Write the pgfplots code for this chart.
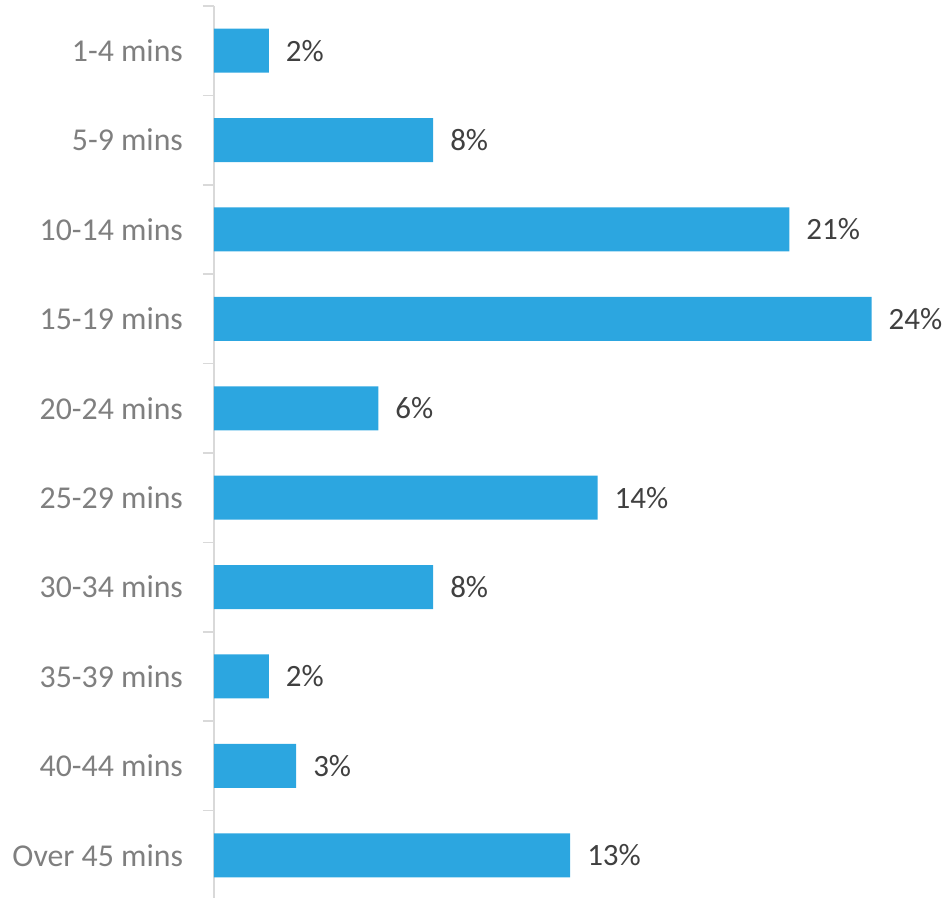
\documentclass[border=0pt]{standalone}
\usepackage{pgfplots}
\pgfplotsset{compat=1.18}
\usepackage{fontspec}
\setmainfont{Carlito}
\definecolor{barblue}{HTML}{2CA6E0}
\definecolor{axgray}{HTML}{D9D9D9}
\definecolor{labgray}{HTML}{7F7F7F}
\definecolor{valgray}{HTML}{404040}
\begin{document}
\begin{tikzpicture}
\useasboundingbox (-107pt,1pt) rectangle (367pt,450pt);
\begin{axis}[
  at={(0pt,0pt)}, anchor=south west,
  scale only axis,
  width=356.2pt, height=447pt,
  xbar, bar width=22pt,
  xmin=0, xmax=26,
  ymin=-0.5, ymax=9.5,
  y dir=reverse,
  axis x line=none,
  axis y line*=left,
  y axis line style={draw=axgray, line width=0.8pt},
  ytick={0,...,9},
  yticklabels={1-4 mins,5-9 mins,10-14 mins,15-19 mins,20-24 mins,25-29 mins,30-34 mins,35-39 mins,40-44 mins,Over 45 mins},
  major tick length=0pt,
  minor ytick={-0.5,0.5,...,9.5},
  minor tick length=5.5pt,
  tick align=outside,
  minor tick style={draw=axgray, line width=0.8pt},
  yticklabel style={font=\fontsize{15.9}{18}\selectfont, text=labgray, anchor=east, xshift=-12pt},
  point meta=x,
  nodes near coords={\pgfmathprintnumber[assume math mode=true]{\pgfplotspointmeta}\%},
  nodes near coords style={font=\fontsize{15.5}{18}\selectfont, text=valgray, anchor=west, xshift=5pt},
  clip=false,
]
\addplot[fill=barblue, draw=none] coordinates {
(2,0) (8,1) (21,2) (24,3) (6,4) (14,5) (8,6) (2,7) (3,8) (13,9)
};
\end{axis}
\end{tikzpicture}
\end{document}
